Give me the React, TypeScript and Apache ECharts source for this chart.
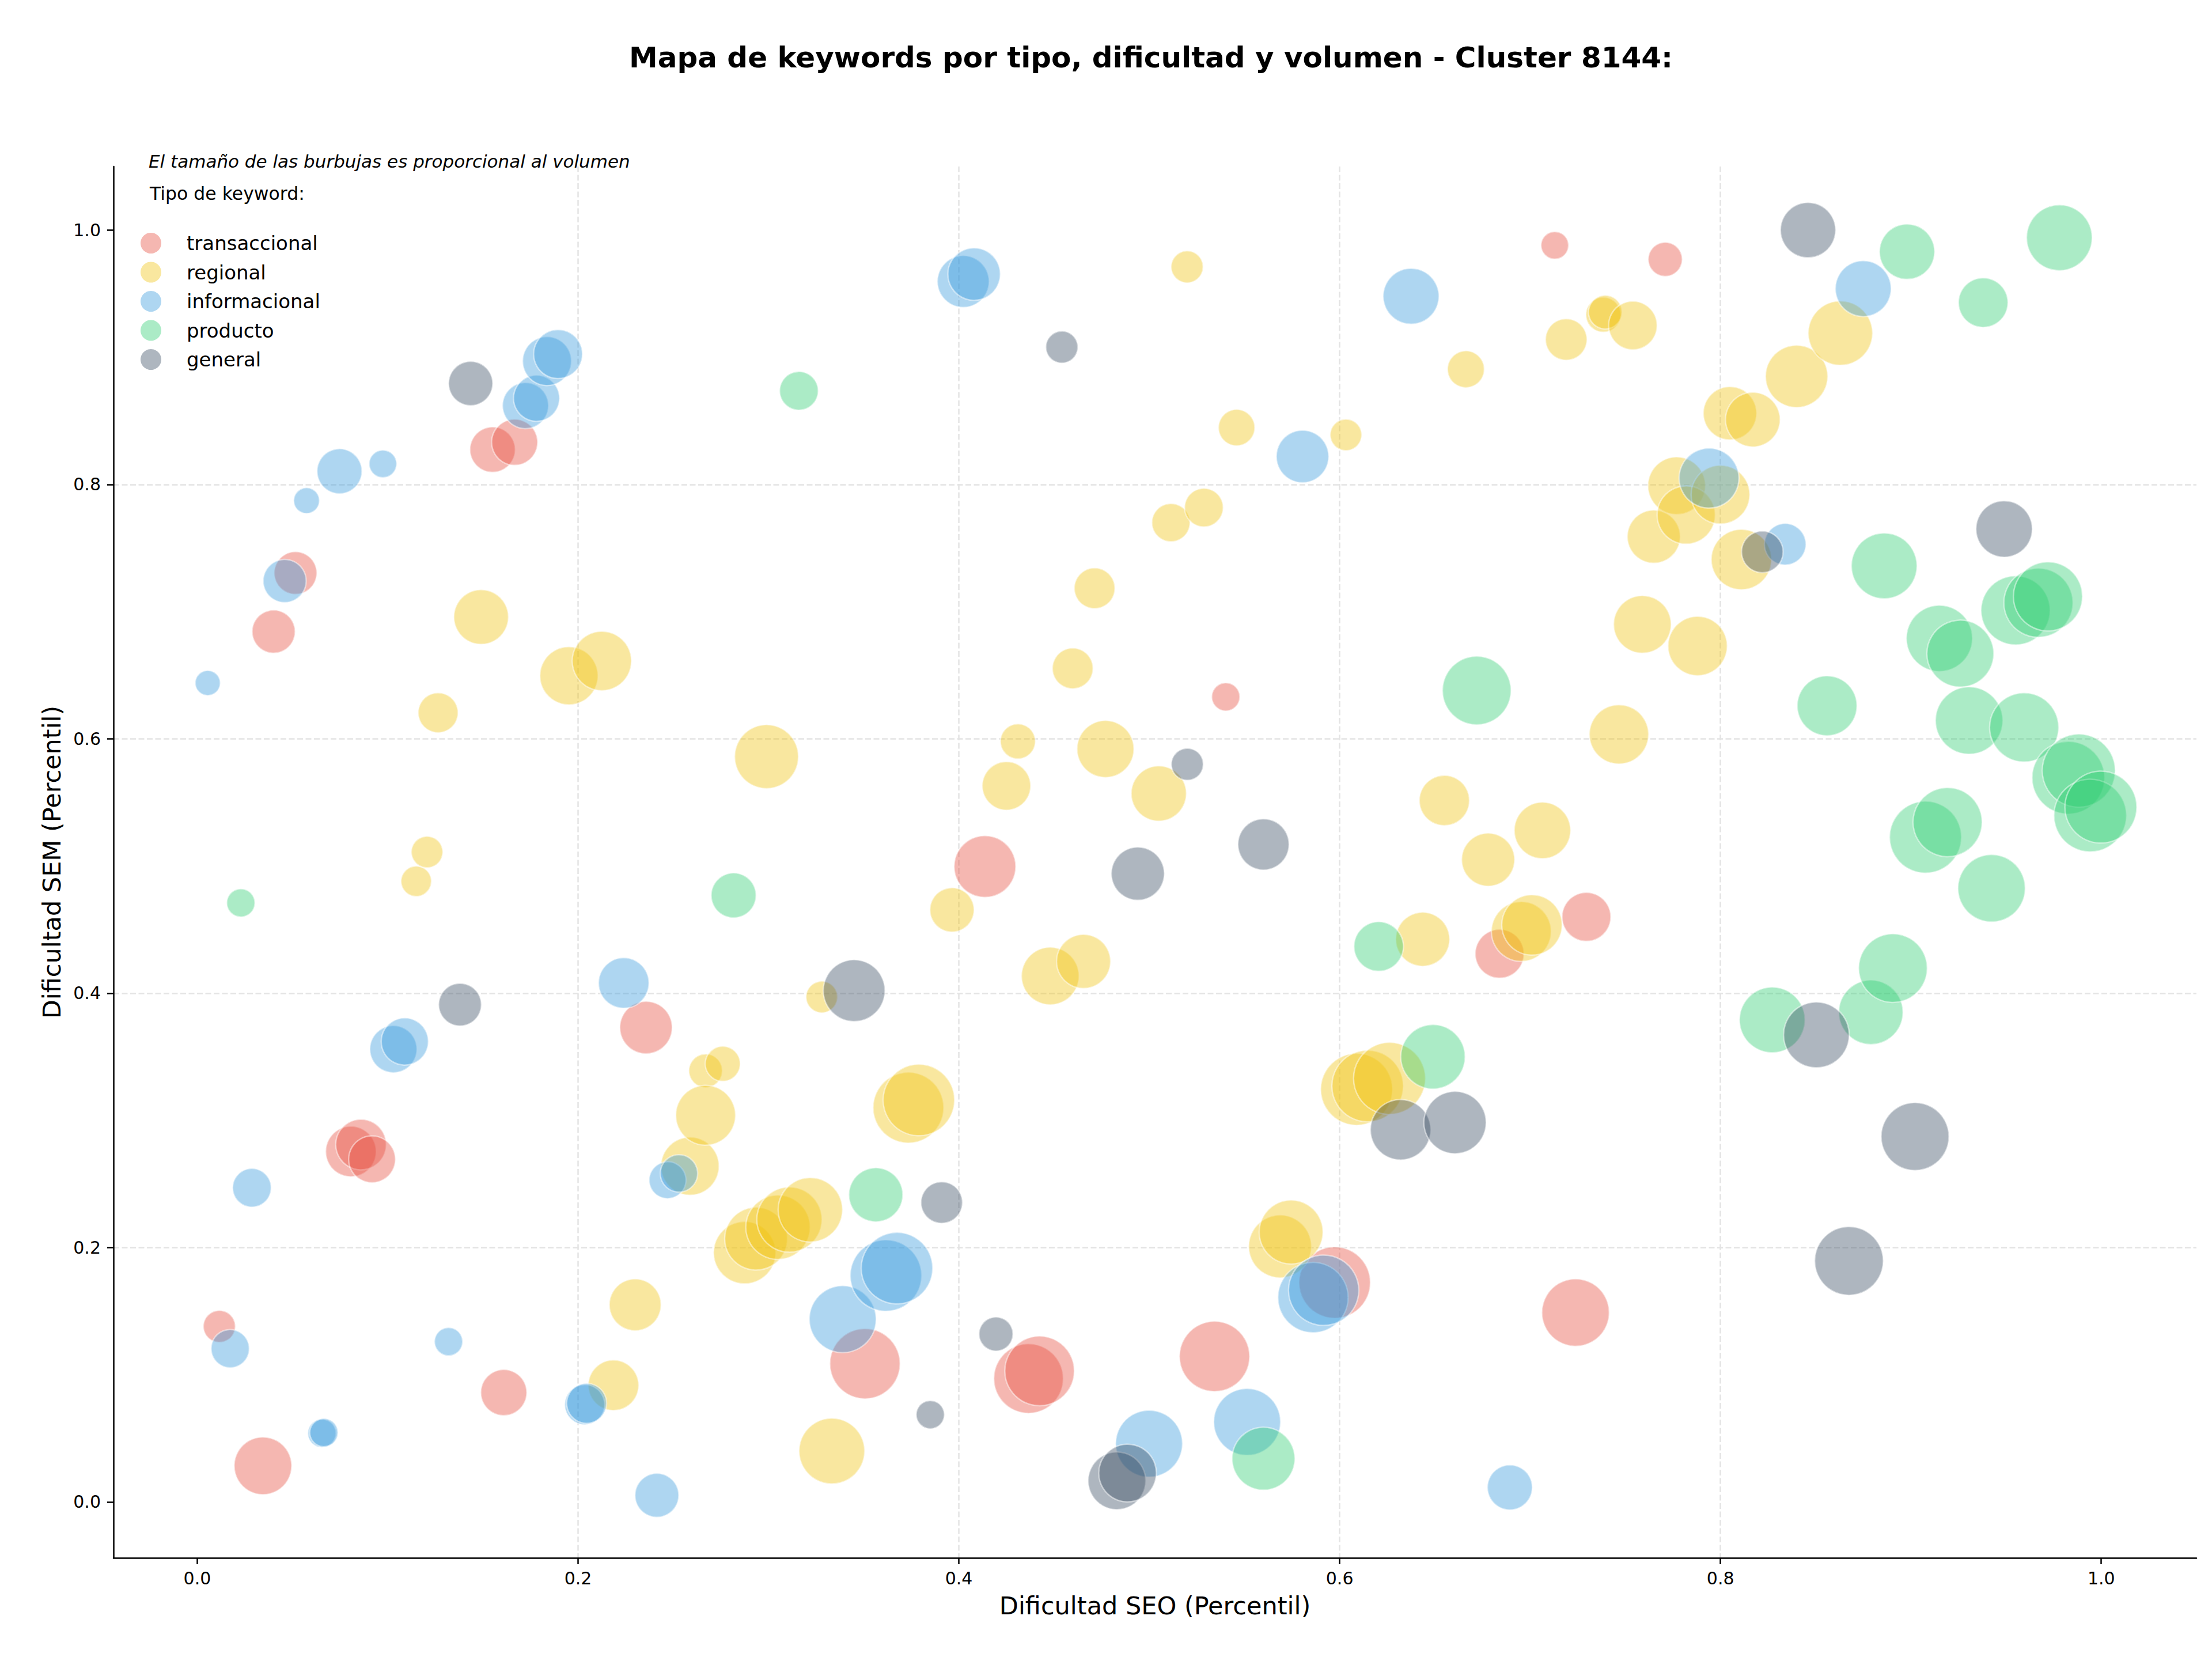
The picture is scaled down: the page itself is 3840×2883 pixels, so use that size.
import React, { useEffect, useRef } from "react";
import * as echarts from "echarts";

// [Dificultad SEO, Dificultad SEM, volumen]
const transaccional = [
  [0.0116, 0.138, 310], [0.0345, 0.0284, 1000], [0.0401, 0.6843, 560], [0.0516, 0.7304, 550],
  [0.0807, 0.2755, 770], [0.086, 0.281, 770], [0.0918, 0.2694, 660], [0.1551, 0.8274, 620],
  [0.1667, 0.8332, 640], [0.161, 0.086, 640], [0.2357, 0.373, 830], [0.3507, 0.1087, 1490],
  [0.4137, 0.4996, 1150], [0.4366, 0.097, 1460], [0.4424, 0.103, 1460], [0.5343, 0.1144, 1490],
  [0.5402, 0.633, 240], [0.5974, 0.1725, 1540], [0.684, 0.431, 720], [0.713, 0.988, 230],
  [0.7239, 0.1489, 1370], [0.7296, 0.46, 720], [0.771, 0.977, 350],
];

const regional = [
  [0.115, 0.488, 280], [0.1207, 0.511, 300], [0.1265, 0.6205, 480], [0.1491, 0.6958, 900],
  [0.1952, 0.6496, 1020], [0.2125, 0.6612, 1060], [0.2186, 0.0917, 770], [0.23, 0.155, 810],
  [0.2588, 0.264, 1020], [0.267, 0.339, 340], [0.267, 0.304, 1080], [0.276, 0.3445, 370],
  [0.2875, 0.196, 1170], [0.2935, 0.207, 1190], [0.299, 0.586, 1230], [0.305, 0.216, 1250],
  [0.311, 0.222, 1280], [0.322, 0.2297, 1250], [0.328, 0.397, 300], [0.3333, 0.04, 1300],
  [0.3735, 0.31, 1510], [0.379, 0.316, 1540], [0.3964, 0.4655, 590], [0.425, 0.563, 710],
  [0.431, 0.598, 370], [0.448, 0.4135, 1000], [0.4655, 0.425, 880], [0.4598, 0.6554, 500],
  [0.4713, 0.7184, 500], [0.477, 0.592, 980], [0.505, 0.557, 920], [0.5114, 0.77, 440],
  [0.5199, 0.9711, 310], [0.5287, 0.7818, 450], [0.5459, 0.8447, 400], [0.5687, 0.2009, 1190],
  [0.5745, 0.2122, 1230], [0.6033, 0.839, 300], [0.6089, 0.3244, 1560], [0.6147, 0.327, 1540],
  [0.6262, 0.333, 1560], [0.6436, 0.4424, 880], [0.655, 0.5515, 760], [0.6663, 0.8906, 410],
  [0.678, 0.505, 850], [0.6954, 0.4485, 1080], [0.701, 0.4537, 1100], [0.7065, 0.528, 960],
  [0.719, 0.914, 520], [0.7385, 0.9335, 370], [0.7395, 0.9355, 340], [0.7467, 0.6035, 1060],
  [0.754, 0.925, 710], [0.759, 0.69, 1000], [0.765, 0.759, 850], [0.777, 0.799, 1000],
  [0.782, 0.776, 1020], [0.788, 0.673, 1060], [0.8, 0.792, 1040], [0.805, 0.856, 860],
  [0.811, 0.741, 1100], [0.817, 0.851, 900], [0.84, 0.885, 1170], [0.863, 0.919, 1250],
];

const informacional = [
  [0.0055, 0.6439, 190], [0.0173, 0.1205, 440], [0.0287, 0.247, 450], [0.0459, 0.7241, 560],
  [0.0574, 0.7873, 200], [0.0655, 0.054, 240], [0.0665, 0.0545, 240], [0.0747, 0.8104, 610],
  [0.0975, 0.8162, 230], [0.103, 0.356, 670], [0.109, 0.362, 670], [0.132, 0.126, 240],
  [0.1724, 0.862, 640], [0.1782, 0.8678, 640], [0.1837, 0.897, 720], [0.1895, 0.9025, 720],
  [0.2035, 0.0765, 480], [0.2045, 0.0775, 480], [0.224, 0.408, 770], [0.2414, 0.0052, 580],
  [0.247, 0.253, 410], [0.253, 0.2583, 420], [0.339, 0.1437, 1350], [0.3617, 0.178, 1540],
  [0.3675, 0.1838, 1540], [0.4023, 0.9596, 810], [0.408, 0.9654, 830], [0.4999, 0.0458, 1350],
  [0.5514, 0.0629, 1350], [0.5805, 0.822, 830], [0.586, 0.1607, 1490], [0.5916, 0.1664, 1490],
  [0.6375, 0.948, 940], [0.6894, 0.0114, 610], [0.794, 0.805, 1080], [0.834, 0.753, 520],
  [0.875, 0.954, 940],
];

const producto = [
  [0.0229, 0.471, 240], [0.2817, 0.4769, 610], [0.316, 0.8736, 450], [0.3564, 0.2415, 880],
  [0.56, 0.034, 1190], [0.6205, 0.4367, 740], [0.649, 0.35, 1250], [0.672, 0.638, 1420],
  [0.8272, 0.379, 1300], [0.856, 0.626, 1080], [0.879, 0.385, 1250], [0.886, 0.736, 1300],
  [0.8906, 0.4197, 1420], [0.898, 0.983, 920], [0.9077, 0.5227, 1560], [0.915, 0.679, 1320],
  [0.9193, 0.5345, 1440], [0.926, 0.667, 1350], [0.9306, 0.6144, 1370], [0.938, 0.943, 740],
  [0.9424, 0.4825, 1370], [0.955, 0.701, 1440], [0.9595, 0.609, 1440], [0.967, 0.707, 1440],
  [0.972, 0.712, 1440], [0.978, 0.994, 1300], [0.9827, 0.5694, 1590], [0.9882, 0.575, 1610],
  [0.9942, 0.5397, 1590], [0.9998, 0.5463, 1560],
];

const general = [
  [0.138, 0.391, 550], [0.1436, 0.8794, 590], [0.345, 0.402, 1150], [0.385, 0.0686, 240],
  [0.391, 0.2354, 520], [0.4195, 0.132, 350], [0.4541, 0.908, 310], [0.483, 0.0166, 1000],
  [0.4886, 0.0227, 1000], [0.494, 0.494, 850], [0.52, 0.58, 310], [0.56, 0.517, 790],
  [0.632, 0.2926, 1100], [0.6606, 0.2983, 1170], [0.822, 0.747, 520], [0.846, 1.0, 920],
  [0.8504, 0.3672, 1300], [0.8675, 0.1895, 1420], [0.9022, 0.2873, 1390], [0.949, 0.765, 960],
];

const tipos = ["transaccional", "regional", "informacional", "producto", "general"];
const seriesData = [transaccional, regional, informacional, producto, general];
const colores = [
  "rgba(231,76,60,0.5)",
  "rgba(241,196,15,0.5)",
  "rgba(52,152,219,0.5)",
  "rgba(46,204,113,0.5)",
  "rgba(52,73,94,0.5)",
];
const ticks = [0, 0.2, 0.4, 0.6, 0.8, 1.0];

const TITLE = "Mapa de keywords por tipo, dificultad y volumen - Cluster 8144:";
const SUBTITLE = "El tamaño de las burbujas es proporcional al volumen";
const LEGEND_TITLE = "Tipo de keyword:";
const X_NAME = "Dificultad SEO (Percentil)";
const Y_NAME = "Dificultad SEM (Percentil)";

const FONT = '"DejaVu Sans", "Liberation Sans", sans-serif';

export default function App() {
  const ref = useRef<HTMLDivElement>(null);

  useEffect(() => {
    document.body.style.margin = "0";
    if (!ref.current) return;
    const chart = echarts.init(ref.current, null, { renderer: "svg" });

    const axisCommon = (name: string, nameGap: number, labelMargin: number) => ({
      type: "value",
      min: -0.044,
      max: 1.05,
      name,
      nameLocation: "middle",
      nameGap,
      nameTextStyle: { fontSize: 43, fontFamily: FONT, color: "#000" },
      axisLine: { show: true, onZero: false, lineStyle: { color: "#000", width: 2.5 } },
      axisTick: {
        show: true,
        length: 11,
        customValues: ticks,
        lineStyle: { color: "#000", width: 2.5 },
      },
      axisLabel: {
        customValues: ticks,
        formatter: (v: number) => v.toFixed(1),
        fontSize: 30,
        fontFamily: FONT,
        color: "#000",
        margin: labelMargin,
        showMinLabel: true,
        showMaxLabel: true,
      },
      splitLine: {
        show: true,
        showMinLine: false,
        showMaxLine: false,
        lineStyle: { color: "#e4e4e4", width: 2.5, type: [10, 4.5] },
      },
    });

    chart.setOption({
      animation: false,
      backgroundColor: "#fff",
      grid: { left: 197, top: 289, right: 27, bottom: 179, containLabel: false },
      xAxis: axisCommon(X_NAME, 61, 20),
      yAxis: axisCommon(Y_NAME, 86, 22),
      legend: {
        orient: "vertical",
        left: 244,
        top: 404,
        padding: 0,
        itemWidth: 36,
        itemHeight: 36,
        itemGap: 14.5,
        icon: "circle",
        selectedMode: false,
        itemStyle: { borderWidth: 0 },
        textStyle: { fontSize: 34, fontFamily: FONT, color: "#000", padding: [0, 0, 0, 39] },
        data: tipos,
      },
      graphic: [
        {
          type: "text",
          x: 1998,
          y: 100,
          style: {
            text: TITLE,
            font: `bold 50px ${FONT}`,
            fill: "#000",
            align: "center",
            verticalAlign: "middle",
          },
        },
        {
          type: "text",
          x: 258,
          y: 280,
          style: {
            text: SUBTITLE,
            font: `italic 31px ${FONT}`,
            fill: "#000",
            align: "left",
            verticalAlign: "middle",
          },
        },
        {
          type: "text",
          x: 260,
          y: 336,
          style: {
            text: LEGEND_TITLE,
            font: `31.5px ${FONT}`,
            fill: "#000",
            align: "left",
            verticalAlign: "middle",
          },
        },
      ],
      series: tipos.map((t, i) => ({
        name: t,
        type: "scatter",
        data: seriesData[i],
        symbol: "circle",
        symbolSize: (v: number[]) => Math.sqrt(v[2] * 10),
        itemStyle: {
          color: colores[i],
          borderColor: "rgba(255,255,255,0.6)",
          borderWidth: 2.5,
        },
        emphasis: { disabled: true },
      })),
    });

    return () => chart.dispose();
  }, []);

  return <div ref={ref} style={{ width: 3840, height: 2883 }} />;
}
